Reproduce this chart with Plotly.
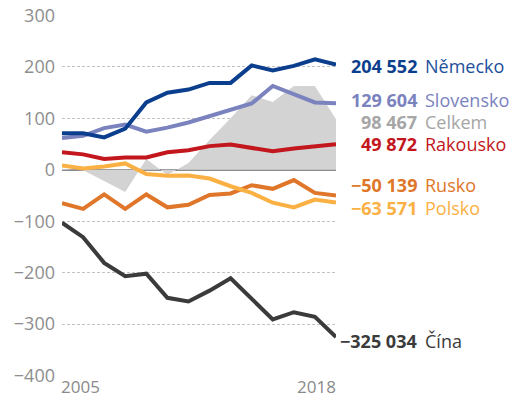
import plotly.graph_objects as go

years = list(range(2005, 2019))

celkem = [2, -1, -22, -43, 21, -10, 13, 58, 100, 145, 132, 163, 163, 98.467]
nemecko = [71, 71, 63, 80, 131, 150, 156, 169, 169, 203, 193, 202, 215, 204.552]
slovensko = [62, 66, 81, 88, 74, 82, 92, 104, 116, 129, 163, 146, 131, 129.604]
rakousko = [34, 30, 21, 24, 24, 34, 38, 46, 49, 43, 36, 41.5, 46.5, 49.872]
rusko = [-65, -76, -48, -76, -48, -73, -68, -49, -46, -30, -37, -20, -45, -50.139]
polsko = [8.5, 2.7, 6.6, 12.4, -8.3, -11.6, -11, -17, -32, -45, -64, -73, -58, -63.571]
cina = [-103, -131, -181, -207, -202, -249, -256, -235, -211, -251, -291, -277, -286, -325.034]

names = ["Německo", "Slovensko", "Celkem", "Rakousko", "Rusko", "Polsko", "Čína"]
value_labels = ["204 552", "129 604", "98 467", "49 872", "−50 139", "−63 571", "−325 034"]
y_ticks = [300, 200, 100, 0, -100, -200, -300, -400]
y_ticktext = ["300", "200", "100", "0", "−100", "−200", "−300", "−400"]
x_labels = ["2005", "2018"]

# styling / layout (not data)
colors = {
    "Německo": "#0b3f8e",
    "Slovensko": "#7b83bf",
    "Celkem": "#d2d3d2",
    "Rakousko": "#c3161d",
    "Rusko": "#df7629",
    "Polsko": "#fbb043",
    "Čína": "#3b3b3b",
}
text_colors = {
    "Německo": ("#0b3f8e", "#1d4f9c"),
    "Slovensko": ("#7b83bf", "#7b83bf"),
    "Celkem": ("#a6a6a6", "#a6a6a6"),
    "Rakousko": ("#c3161d", "#c3161d"),
    "Rusko": ("#df7629", "#df7629"),
    "Polsko": ("#fbb043", "#fbb043"),
    "Čína": ("#3b3b3b", "#3b3b3b"),
}
label_y = [202, 135, 93, 50, -30, -75, -333]

FONT = "Open Sans"
PLOT_H = 400 - 15 - 24

fig = go.Figure()
fig.add_trace(go.Scatter(x=years, y=celkem, mode="lines", fill="tozeroy",
                         line=dict(width=0, color=colors["Celkem"]),
                         fillcolor=colors["Celkem"], hoverinfo="skip"))
series = [("Rusko", rusko), ("Polsko", polsko), ("Rakousko", rakousko),
          ("Slovensko", slovensko), ("Německo", nemecko), ("Čína", cina)]
for name, vals in series:
    fig.add_trace(go.Scatter(x=years, y=vals, mode="lines",
                             line=dict(width=4, color=colors[name])))

ann = []
for name, vl, ly in zip(names, value_labels, label_y):
    nc, tc = text_colors[name]
    ann.append(dict(xref="paper", yref="y", x=1.303, y=ly, xanchor="right", yanchor="middle",
                    text="<b>" + vl + "</b>", showarrow=False,
                    font=dict(family=FONT, size=18, color=nc)))
    ann.append(dict(xref="paper", yref="y", x=1.316, y=ly, xanchor="left", yanchor="middle",
                    text=name, showarrow=False,
                    font=dict(family=FONT, size=18, color=tc)))
ann.append(dict(xref="x", yref="paper", x=years[0], y=-24 / PLOT_H, xanchor="left", yanchor="bottom",
                text=x_labels[0], showarrow=False, xshift=-3,
                font=dict(family=FONT, size=17, color="#8a8a8a")))
ann.append(dict(xref="x", yref="paper", x=years[-1], y=-24 / PLOT_H, xanchor="right", yanchor="bottom",
                text=x_labels[1], showarrow=False, xshift=2,
                font=dict(family=FONT, size=17, color="#8a8a8a")))

fig.update_layout(
    width=514, height=400,
    margin=dict(l=62, r=178, t=15, b=24, autoexpand=False),
    paper_bgcolor="white", plot_bgcolor="white",
    showlegend=False,
    annotations=ann,
    xaxis=dict(range=[2005, 2018], showgrid=False, zeroline=False, showticklabels=False,
               showline=False, ticks="", automargin=False),
    yaxis=dict(range=[-401, 301], tickvals=y_ticks, ticktext=y_ticktext,
               showgrid=True, gridcolor="#c4c4c4", griddash="3px,2px", gridwidth=1,
               zeroline=True, zerolinecolor="#8c8c8c", zerolinewidth=2,
               showline=False, ticks="", ticklabelstandoff=6, automargin=False,
               tickfont=dict(family=FONT, size=18, color="#8e8e8e")),
)
fig.write_html("out.html")
